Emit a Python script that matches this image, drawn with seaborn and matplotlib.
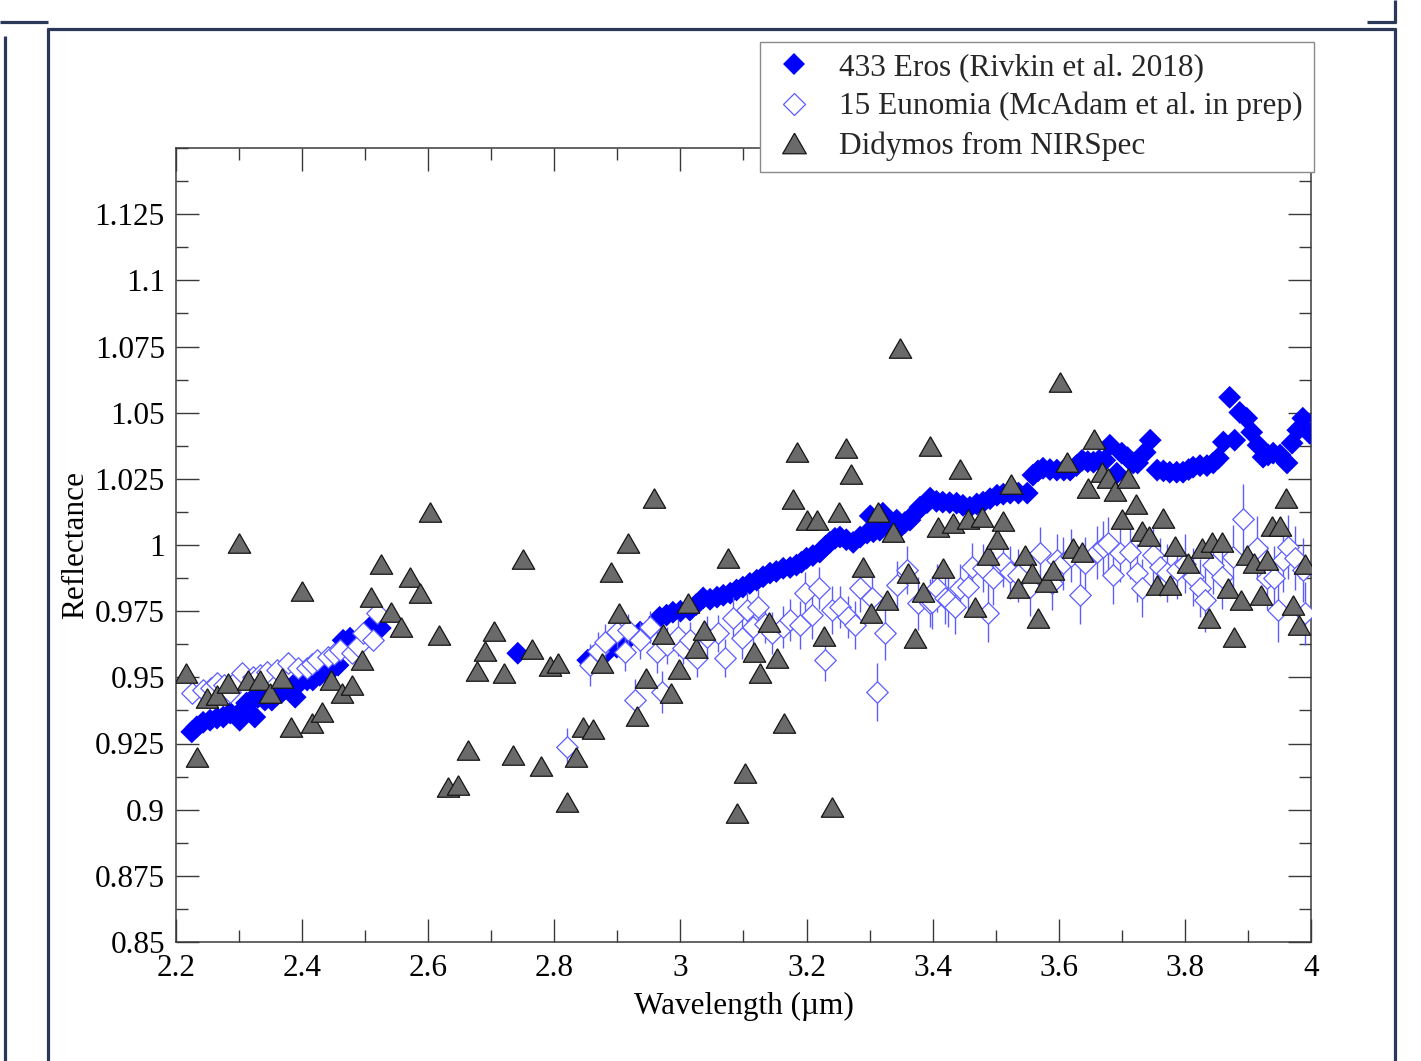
import numpy as np
import pandas as pd
import matplotlib
matplotlib.use("Agg")
import matplotlib.pyplot as plt
import seaborn as sns
from matplotlib.lines import Line2D
from matplotlib.ticker import MultipleLocator, FixedLocator, FuncFormatter

# ---------------- data ----------------
eros_x = [2.225, 2.233, 2.243, 2.254, 2.265, 2.275, 2.286, 2.297, 2.301, 2.312,
          2.320, 2.325, 2.330, 2.341, 2.352, 2.360, 2.368, 2.376, 2.386, 2.389,
          2.397, 2.408, 2.417, 2.428, 2.439, 2.449, 2.457, 2.465, 2.476, 2.487,
          2.497, 2.508, 2.516, 2.524,
          2.742,
          2.853, 2.862, 2.872, 2.885, 2.899, 2.910, 2.920, 2.936, 2.952, 2.967,
          2.978, 2.988, 3.000, 3.015, 3.025, 3.036, 3.047, 3.058, 3.068, 3.079,
          3.089, 3.099, 3.110, 3.121, 3.131, 3.142, 3.152, 3.163, 3.174, 3.184,
          3.192, 3.200, 3.210, 3.221, 3.230, 3.237, 3.245, 3.253, 3.263, 3.274,
          3.285, 3.296, 3.301, 3.306, 3.316, 3.321, 3.330, 3.343, 3.348, 3.356,
          3.364, 3.372, 3.380, 3.391, 3.396, 3.406, 3.416, 3.427, 3.438, 3.448,
          3.459, 3.470, 3.480, 3.491, 3.502, 3.512, 3.523, 3.536, 3.550, 3.559,
          3.567, 3.575, 3.586, 3.597, 3.608, 3.618, 3.628, 3.637, 3.646, 3.655,
          3.664, 3.673, 3.681, 3.692, 3.700, 3.709, 3.718, 3.725, 3.737, 3.745,
          3.756, 3.766, 3.776, 3.787, 3.797, 3.806, 3.813, 3.824, 3.835, 3.845,
          3.853, 3.861, 3.871, 3.879, 3.887, 3.898, 3.906, 3.916, 3.924, 3.932,
          3.940, 3.951, 3.962, 3.970, 3.979, 3.987, 3.998]
eros_y = [0.9294, 0.9313, 0.9330, 0.9338, 0.9346, 0.9350, 0.9365, 0.9357, 0.9338, 0.9403,
          0.9414, 0.9350, 0.9425, 0.9414, 0.9414, 0.9433, 0.9444, 0.9459, 0.9470, 0.9425,
          0.9482, 0.9490, 0.9490, 0.9508, 0.9527, 0.9535, 0.9546, 0.9640, 0.9648, 0.9633,
          0.9659, 0.9690, 0.9697, 0.9686,
          0.9591,
          0.9565, 0.9580, 0.9584, 0.9600, 0.9614, 0.9630, 0.9652, 0.9671, 0.9686, 0.9727,
          0.9735, 0.9746, 0.9750, 0.9754, 0.9775, 0.9800, 0.9795, 0.9803, 0.9810, 0.9818,
          0.9830, 0.9841, 0.9855, 0.9867, 0.9880, 0.9894, 0.9900, 0.9912, 0.9915, 0.9924,
          0.9935, 0.9950, 0.9960, 0.9973, 0.9995, 1.0010, 1.0025, 1.0030, 1.0020, 1.0010,
          1.0030, 1.0045, 1.0110, 1.0050, 1.0056, 1.0120, 1.0075, 1.0094, 1.0067, 1.0085,
          1.0094, 1.0120, 1.0143, 1.0160, 1.0177, 1.0165, 1.0162, 1.0160, 1.0158, 1.0150,
          1.0143, 1.0155, 1.0162, 1.0175, 1.0188, 1.0192, 1.0196, 1.0196, 1.0196, 1.0264,
          1.0280, 1.0290, 1.0285, 1.0283, 1.0283, 1.0283, 1.0300, 1.0320, 1.0315, 1.0313,
          1.0320, 1.0320, 1.0377, 1.0271, 1.0347, 1.0330, 1.0310, 1.0310, 1.0350, 1.0396,
          1.0283, 1.0280, 1.0275, 1.0275, 1.0275, 1.0285, 1.0294, 1.0300, 1.0300, 1.0310,
          1.0328, 1.0389, 1.0558, 1.0396, 1.0501, 1.0479, 1.0426, 1.0377, 1.0332, 1.0340,
          1.0347, 1.0340, 1.0310, 1.0385, 1.0434, 1.0479, 1.0422]

eun_x = [2.225, 2.243, 2.255, 2.265, 2.276, 2.286, 2.296, 2.305, 2.322, 2.333,
         2.344, 2.360, 2.378, 2.394, 2.408, 2.416, 2.424, 2.441, 2.450, 2.460,
         2.479, 2.488, 2.497, 2.512, 2.519,
         2.820,
         2.856, 2.870, 2.880, 2.899, 2.912, 2.917, 2.928, 2.936, 2.952, 2.963,
         2.971, 2.979, 2.996, 3.004, 3.015, 3.026, 3.042, 3.060, 3.071, 3.084,
         3.097, 3.105, 3.115, 3.123, 3.134, 3.145, 3.163, 3.174, 3.189, 3.197,
         3.208, 3.219, 3.230, 3.240, 3.253, 3.266, 3.277, 3.284, 3.304, 3.311,
         3.324, 3.343, 3.359, 3.377, 3.396, 3.399, 3.407, 3.420, 3.424, 3.435,
         3.443, 3.456, 3.462, 3.480, 3.488, 3.496, 3.512, 3.523, 3.536, 3.555,
         3.571, 3.589, 3.597, 3.607, 3.620, 3.634, 3.641, 3.660, 3.670, 3.678,
         3.686, 3.697, 3.713, 3.724, 3.732, 3.749, 3.760, 3.771, 3.787, 3.800,
         3.813, 3.824, 3.832, 3.845, 3.859, 3.876, 3.892, 3.914, 3.930, 3.942,
         3.947, 3.955, 3.963, 3.974, 3.987, 3.990]
eun_y = [0.9440, 0.9452, 0.9460, 0.9478, 0.9470, 0.9444, 0.9490, 0.9516, 0.9500, 0.9510,
         0.9520, 0.9527, 0.9554, 0.9535, 0.9535, 0.9550, 0.9565, 0.9576, 0.9590, 0.9603,
         0.9591, 0.9620, 0.9667, 0.9640, 0.9742,
         0.9237,
         0.9546, 0.9600, 0.9633, 0.9671, 0.9595, 0.9678, 0.9414, 0.9640, 0.9690, 0.9595,
         0.9444, 0.9622, 0.9652, 0.9610, 0.9640, 0.9573, 0.9652, 0.9667, 0.9573, 0.9724,
         0.9648, 0.9754, 0.9690, 0.9765, 0.9700, 0.9667, 0.9690, 0.9716, 0.9697, 0.9818,
         0.9735, 0.9837, 0.9565, 0.9754, 0.9765, 0.9727, 0.9697, 0.9837, 0.9800, 0.9444,
         0.9667, 0.9848, 0.9905, 0.9780, 0.9780, 0.9784, 0.9837, 0.9800, 0.9792, 0.9765,
         0.9837, 0.9841, 0.9916, 0.9912, 0.9742, 0.9875, 0.9931, 0.9897, 0.9886, 0.9841,
         0.9969, 0.9856, 0.9943, 0.9931, 0.9960, 0.9810, 0.9931, 0.9973, 0.9992, 1.0007,
         0.9886, 0.9969, 0.9973, 0.9894, 0.9837, 0.9961, 0.9916, 0.9894, 0.9905, 0.9930,
         0.9878, 0.9837, 0.9792, 0.9924, 0.9878, 0.9954, 1.0100, 0.9988, 0.9875, 0.9875,
         0.9754, 0.9943, 0.9992, 0.9950, 0.9905, 0.9742]
eun_err = [0.001] * 25 + [0.007] + [
         0.008, 0.007, 0.007, 0.006, 0.007, 0.006, 0.008, 0.007, 0.006, 0.008,
         0.008, 0.007, 0.007, 0.006, 0.007, 0.007, 0.008, 0.007, 0.007, 0.008,
         0.008, 0.007, 0.008, 0.007, 0.007, 0.008, 0.008, 0.008, 0.009, 0.008,
         0.009, 0.008, 0.008, 0.009, 0.008, 0.008, 0.009, 0.009, 0.008, 0.011,
         0.010, 0.009, 0.009, 0.010, 0.009, 0.010, 0.009, 0.010, 0.010, 0.010,
         0.009, 0.010, 0.009, 0.009, 0.011, 0.010, 0.009, 0.010, 0.010, 0.011,
         0.010, 0.010, 0.010, 0.010, 0.010, 0.011, 0.010, 0.010, 0.010, 0.010,
         0.011, 0.011, 0.010, 0.011, 0.011, 0.011, 0.011, 0.011, 0.011, 0.011,
         0.011, 0.011, 0.012, 0.011, 0.012, 0.012, 0.013, 0.012, 0.012, 0.012,
         0.012, 0.012, 0.012, 0.012, 0.012, 0.012]

didy_x = [2.216, 2.233, 2.249, 2.265, 2.283, 2.300, 2.314, 2.333, 2.349, 2.368,
          2.382, 2.400, 2.416, 2.432, 2.446, 2.463, 2.479, 2.495, 2.509, 2.525,
          2.541, 2.557, 2.571, 2.587, 2.603, 2.617, 2.631, 2.647, 2.663, 2.677,
          2.690, 2.704, 2.720, 2.734, 2.750, 2.764, 2.779, 2.793, 2.806, 2.820,
          2.834, 2.845, 2.861, 2.875, 2.890, 2.903, 2.917, 2.931, 2.945, 2.958,
          2.972, 2.985, 2.998, 3.012, 3.025, 3.037, 3.075, 3.090, 3.103, 3.116,
          3.126, 3.141, 3.153, 3.164, 3.179, 3.185, 3.200, 3.216, 3.228, 3.240,
          3.252, 3.263, 3.270, 3.289, 3.302, 3.313, 3.327, 3.337, 3.348, 3.361,
          3.372, 3.385, 3.396, 3.408, 3.417, 3.432, 3.443, 3.456, 3.467, 3.478,
          3.488, 3.502, 3.512, 3.524, 3.535, 3.546, 3.557, 3.567, 3.580, 3.591,
          3.602, 3.613, 3.622, 3.637, 3.646, 3.656, 3.668, 3.678, 3.689, 3.700,
          3.710, 3.722, 3.732, 3.743, 3.756, 3.765, 3.776, 3.784, 3.805, 3.827,
          3.838, 3.843, 3.859, 3.868, 3.878, 3.889, 3.898, 3.909, 3.921, 3.930,
          3.938, 3.951, 3.960, 3.971, 3.981, 3.990]
didy_y = [0.9516, 0.9199, 0.9421, 0.9433, 0.9478, 1.0007, 0.9490, 0.9490, 0.9440, 0.9497,
          0.9312, 0.9826, 0.9327, 0.9369, 0.9490, 0.9440, 0.9471, 0.9565, 0.9803, 0.9927,
          0.9746, 0.9690, 0.9878, 0.9818, 1.0124, 0.9660, 0.9085, 0.9093, 0.9225, 0.9523,
          0.9599, 0.9675, 0.9516, 0.9206, 0.9946, 0.9607, 0.9165, 0.9542, 0.9554, 0.9029,
          0.9199, 0.9312, 0.9304, 0.9554, 0.9897, 0.9742, 1.0007, 0.9354, 0.9497, 1.0177,
          0.9663, 0.9440, 0.9531, 0.9780, 0.9610, 0.9678, 0.9950, 0.8987, 0.9138, 0.9595,
          0.9516, 0.9709, 0.9573, 0.9327, 1.0173, 1.0350, 1.0094, 1.0094, 0.9656, 0.9010,
          1.0124, 1.0366, 1.0270, 0.9916, 0.9742, 1.0124, 0.9792, 1.0049, 1.0743, 0.9893,
          0.9648, 0.9822, 1.0373, 1.0067, 0.9912, 1.0082, 1.0286, 1.0098, 0.9765, 1.0105,
          0.9962, 1.0022, 1.0090, 1.0230, 0.9837, 0.9962, 0.9894, 0.9724, 0.9860, 0.9905,
          1.0615, 1.0313, 0.9988, 0.9973, 1.0215, 1.0400, 1.0275, 1.0252, 1.0203, 1.0098,
          1.0252, 1.0154, 1.0052, 1.0033, 0.9848, 1.0101, 0.9848, 0.9995, 0.9931, 0.9988,
          0.9724, 1.0010, 1.0010, 0.9837, 0.9652, 0.9792, 0.9962, 0.9931, 0.9810, 0.9943,
          1.0071, 1.0071, 1.0177, 0.9773, 0.9697, 0.9927]

labels = ["433 Eros (Rivkin et al. 2018)",
          "15 Eunomia (McAdam et al. in prep)",
          "Didymos from NIRSpec"]
x_label = "Wavelength (\u00b5m)"
y_label = "Reflectance"

eros = pd.DataFrame({"x": eros_x, "y": eros_y})
eun = pd.DataFrame({"x": eun_x, "y": eun_y, "err": eun_err})
didy = pd.DataFrame({"x": didy_x, "y": didy_y})

# ---------------- style ----------------
sns.set_theme(style="ticks")
plt.rcParams["font.family"] = ["Liberation Serif", "DejaVu Serif"]
plt.rcParams["axes.unicode_minus"] = False

W, H = 1421, 1061
fig = plt.figure(figsize=(W / 100, H / 100), dpi=100)
fig.patch.set_facecolor("white")

ax = fig.add_axes([176 / W, (H - 942) / H, (1311 - 176) / W, (942 - 148) / H])
ax.set_facecolor("white")

EROS_C = "#0000ff"
EUN_C = "#5c5cff"
TRI_FACE = "#6a6a6a"
tri = [(0, 0.87), (-1, -0.87), (1, -0.87), (0, 0.87)]

sns.scatterplot(data=eros, x="x", y="y", ax=ax, marker="D", s=135,
                color=EROS_C, edgecolor="none", linewidth=0, zorder=3, legend=False)
ax.errorbar(eun["x"], eun["y"], yerr=eun["err"], fmt="none", ecolor=EUN_C,
            elinewidth=1.0, capsize=0, zorder=4)
sns.scatterplot(data=eun, x="x", y="y", ax=ax, marker="D", s=120,
                facecolor="white", edgecolor=EUN_C, linewidth=0.9, zorder=5, legend=False)
sns.scatterplot(data=didy, x="x", y="y", ax=ax, marker=tri, s=260,
                color=TRI_FACE, edgecolor="#151515", linewidth=0.9, zorder=6, legend=False)

ax.set_xlim(2.2, 4.0)
ax.set_ylim(0.85, 1.15)
ax.xaxis.set_major_locator(MultipleLocator(0.2))
ax.xaxis.set_minor_locator(MultipleLocator(0.1))
ax.yaxis.set_major_locator(FixedLocator(np.round(np.arange(0.85, 1.126, 0.025), 4)))
ax.yaxis.set_minor_locator(MultipleLocator(0.0125))
fmt = FuncFormatter(lambda v, p: f"{round(v, 4):g}")
ax.xaxis.set_major_formatter(fmt)
ax.yaxis.set_major_formatter(fmt)

ax.tick_params(which="both", direction="in", top=True, right=True,
               color="#3a3a3a", labelsize=22.5, labelcolor="black")
ax.tick_params(which="major", length=16.5, width=1.0)
ax.tick_params(which="minor", length=8.5, width=1.0)
ax.tick_params(axis="x", which="major", pad=9)
ax.tick_params(axis="y", which="major", pad=8)
for s in ax.spines.values():
    s.set_visible(True)
    s.set_color("#3a3a3a")
    s.set_linewidth(1.1)

ax.set_xlabel(x_label, fontsize=22.5, labelpad=6, color="black")
ax.set_ylabel(y_label, fontsize=22.5, labelpad=3, color="black")

handles = [
    Line2D([], [], ls="none", marker="D", markersize=11, markerfacecolor=EROS_C,
           markeredgewidth=0),
    Line2D([], [], ls="none", marker="D", markersize=11, markerfacecolor="white",
           markeredgecolor=EUN_C, markeredgewidth=0.9),
    Line2D([], [], ls="none", marker=tri, markersize=17, markerfacecolor=TRI_FACE,
           markeredgecolor="#151515", markeredgewidth=0.9),
]
leg = fig.legend(handles, labels, loc="upper right",
                 bbox_to_anchor=(1314 / W, 1 - 42 / H), bbox_transform=fig.transFigure,
                 frameon=True, fancybox=False, framealpha=1, edgecolor="#8a8a8a",
                 fontsize=22.5, handlelength=1.5, handletextpad=0.7, borderpad=0.35,
                 labelspacing=0.32, borderaxespad=0)
leg.get_frame().set_linewidth(1.0)

# decorative frame lines around the picture
FRAME_C = "#2b3858"
def fline(x0, y0, x1, y1):
    fig.add_artist(Line2D([x0 / W, x1 / W], [1 - y0 / H, 1 - y1 / H],
                          transform=fig.transFigure, color=FRAME_C, lw=2.3,
                          solid_capstyle="butt"))

fline(0, 22, 48, 22)
fline(4.5, 36, 4.5, H)
fline(47.5, 28, 47.5, H)
fline(46.5, 28.5, 1395.5, 28.5)
fline(1395, 28, 1395, H)
fline(1395, 0, 1395, 22.5)
fline(1367, 22, 1396, 22)

fig.savefig("out.png", dpi=100, facecolor="white")
